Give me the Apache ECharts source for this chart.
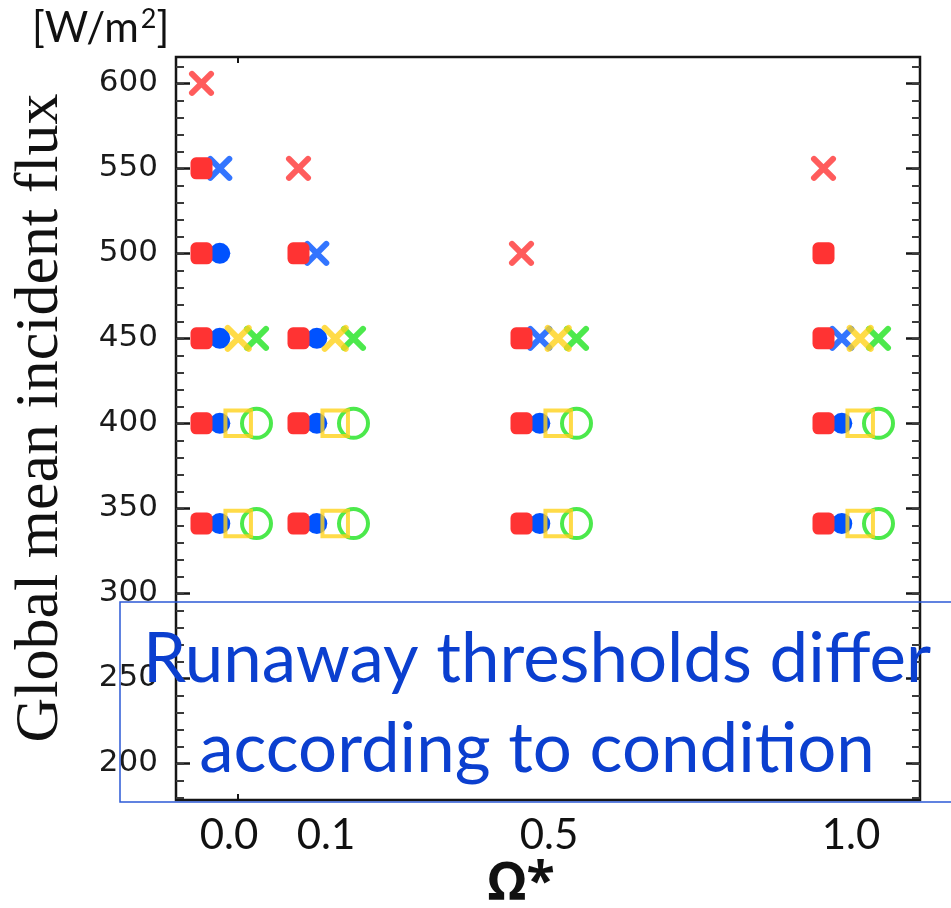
<!DOCTYPE html>
<html>
<head>
<meta charset="utf-8">
<script src="https://cdn.jsdelivr.net/npm/echarts@6/dist/echarts.min.js"></script>
<style>
  html, body { margin: 0; padding: 0; background: #fff; }
  #chart { width: 951px; height: 908px; }
</style>
</head>
<body>
<div id="chart"></div>
<script>
// Rotation-rate columns (Ω*) and flux tick labels
const omegaLabels = ['0.0', '0.1', '0.5', '1.0'];
const fluxTicks = [200, 250, 300, 350, 400, 450, 500, 550, 600];

// Incident flux [W/m2] for each Ω* column: stable climates and runaway cases
const redStable     = [[341, 400, 450, 500, 550], [341, 400, 450, 500], [341, 400, 450], [341, 400, 450, 500]];
const redRunaway    = [[600], [550], [500], [550]];
const blueStable    = [[341, 400, 450, 500], [341, 400, 450], [341, 400], [341, 400]];
const blueRunaway   = [[550], [500], [450], [450]];
const yellowStable  = [[341, 400], [341, 400], [341, 400], [341, 400]];
const yellowRunaway = [[450], [450], [450], [450]];
const greenStable   = [[341, 400], [341, 400], [341, 400], [341, 400]];
const greenRunaway  = [[450], [450], [450], [450]];

// ---- layout & styling ----
const frame = { left: 176, top: 57, width: 744, height: 743 };
const yRange = { min: 178.4, max: 615.5 };
const columnCenters = [229, 326, 549, 851];
const columnWidth = 80;

const CROSS = 'path://M0,0L10,10M10,0L0,10';
const styles = [
  { stable: redStable, runaway: redRunaway, color: '#ff3333', offset: -27.5, z: 5,
    sym: 'roundRect', size: 22, hollow: false, crossSize: 19 },
  { stable: blueStable, runaway: blueRunaway, color: '#0052ff', offset: -9.2, z: 3,
    sym: 'circle', size: 21, hollow: false, crossSize: 19 },
  { stable: yellowStable, runaway: yellowRunaway, color: '#ffd21a', offset: 9.2, z: 4,
    sym: 'rect', size: 25.5, hollow: true, crossSize: 21 },
  { stable: greenStable, runaway: greenRunaway, color: '#1fe31f', offset: 27.5, z: 2,
    sym: 'circle', size: 29, hollow: true, crossSize: 19 }
];

const minorTicks = [];
for (let v = 180; v <= 610; v += 10) minorTicks.push(v);

const grids = [Object.assign({ show: true, borderColor: '#151515', borderWidth: 2.5,
  backgroundColor: 'transparent' }, frame)];
const xAxes = [
  { gridIndex: 0, type: 'value', min: 0, max: 1, position: 'bottom',
    axisLine: { show: false }, axisLabel: { show: false }, splitLine: { show: false },
    axisTick: { show: true, inside: true, length: 6, customValues: [0.083],
      lineStyle: { color: '#151515', width: 2 } } },
  { gridIndex: 0, type: 'value', min: 0, max: 1, position: 'top',
    axisLine: { show: false }, axisLabel: { show: false }, splitLine: { show: false },
    axisTick: { show: true, inside: true, length: 6, customValues: [0.083],
      lineStyle: { color: '#151515', width: 2 } } }
];
function yFrameAxis(pos, values, len, color, width, labels) {
  return {
    gridIndex: 0, type: 'value', position: pos, min: yRange.min, max: yRange.max,
    axisLine: { show: false }, splitLine: { show: false },
    axisTick: { show: true, inside: true, length: len, customValues: values,
      lineStyle: { color: color, width: width } },
    axisLabel: labels ? { show: true, customValues: values, margin: 18,
      fontFamily: 'DejaVu Sans', fontSize: 31, color: '#1a1a1a' } : { show: false }
  };
}
const yAxes = [
  yFrameAxis('left', fluxTicks, 14, '#151515', 2.5, true),
  yFrameAxis('left', minorTicks, 8, '#3a3a3a', 2, false),
  yFrameAxis('right', fluxTicks, 14, '#151515', 2.5, false),
  yFrameAxis('right', minorTicks, 8, '#3a3a3a', 2, false)
];

const series = [];
omegaLabels.forEach((label, i) => {
  grids.push({ left: columnCenters[i] - columnWidth / 2, top: frame.top,
    width: columnWidth, height: frame.height, show: false });
  xAxes.push({ gridIndex: i + 1, type: 'category', data: [label],
    axisLine: { show: false }, axisTick: { show: false }, splitLine: { show: false },
    axisLabel: { show: true, margin: 14, fontFamily: 'Lato', fontSize: 42, color: '#111' } });
  yAxes.push({ gridIndex: i + 1, type: 'value', min: yRange.min, max: yRange.max, show: false });
  const xi = xAxes.length - 1, yi = yAxes.length - 1;
  styles.forEach(s => {
    series.push({
      type: 'scatter', xAxisIndex: xi, yAxisIndex: yi, z: s.z, silent: true,
      data: s.stable[i].map(v => [label, v]),
      symbol: s.sym, symbolSize: s.size, symbolOffset: [s.offset, 0],
      itemStyle: s.hollow
        ? { color: 'rgba(255,255,255,0)', borderColor: s.color, borderWidth: 4 }
        : { color: s.color, opacity: 1 },
      emphasis: { disabled: true }
    });
    series.push({
      type: 'scatter', xAxisIndex: xi, yAxisIndex: yi, z: s.z, silent: true,
      data: s.runaway[i].map(v => [label, v]),
      symbol: CROSS, symbolSize: s.crossSize, symbolOffset: [s.offset, 0],
      itemStyle: { color: s.color, borderColor: s.color, borderWidth: 6, borderCap: 'round' },
      emphasis: { disabled: true }
    });
  });
});

const chart = echarts.init(document.getElementById('chart'), null, { renderer: 'canvas' });
chart.setOption({
  animation: false,
  backgroundColor: '#ffffff',
  grid: grids,
  xAxis: xAxes,
  yAxis: yAxes,
  series: series,
  graphic: [
    { type: 'text', left: 32, top: 6, z: 10,
      style: { text: '[W/m{sup|2}]', fontFamily: 'Lato', fontSize: 42, fill: '#111',
        rich: { sup: { fontFamily: 'Lato', fontSize: 27, fill: '#111', padding: [0, 0, 17, 2] } } } },
    { type: 'text', x: 41, y: 418, rotation: Math.PI / 2, z: 10,
      style: { text: 'Global mean incident flux', fontFamily: 'Liberation Serif',
        fontSize: 62, fill: '#111', align: 'center', verticalAlign: 'middle' } },
    { type: 'text', x: 521, y: 884, z: 10,
      style: { text: 'Ω*', fontFamily: 'Noto Sans', fontWeight: 'bold', fontSize: 52,
        fill: '#111', align: 'center', verticalAlign: 'middle' } },
    { type: 'rect', z: 20, shape: { x: 120, y: 602, width: 845, height: 200 },
      style: { fill: 'rgba(255,255,255,0)', stroke: '#2c5ad6', lineWidth: 1.5 } },
    { type: 'text', x: 537, y: 705, z: 21,
      style: { text: 'Runaway thresholds differ\naccording to condition', fontFamily: 'Lato',
        fontSize: 69, lineHeight: 90, fill: '#0b3fcf', align: 'center', verticalAlign: 'middle' } }
  ]
});
</script>
</body>
</html>
